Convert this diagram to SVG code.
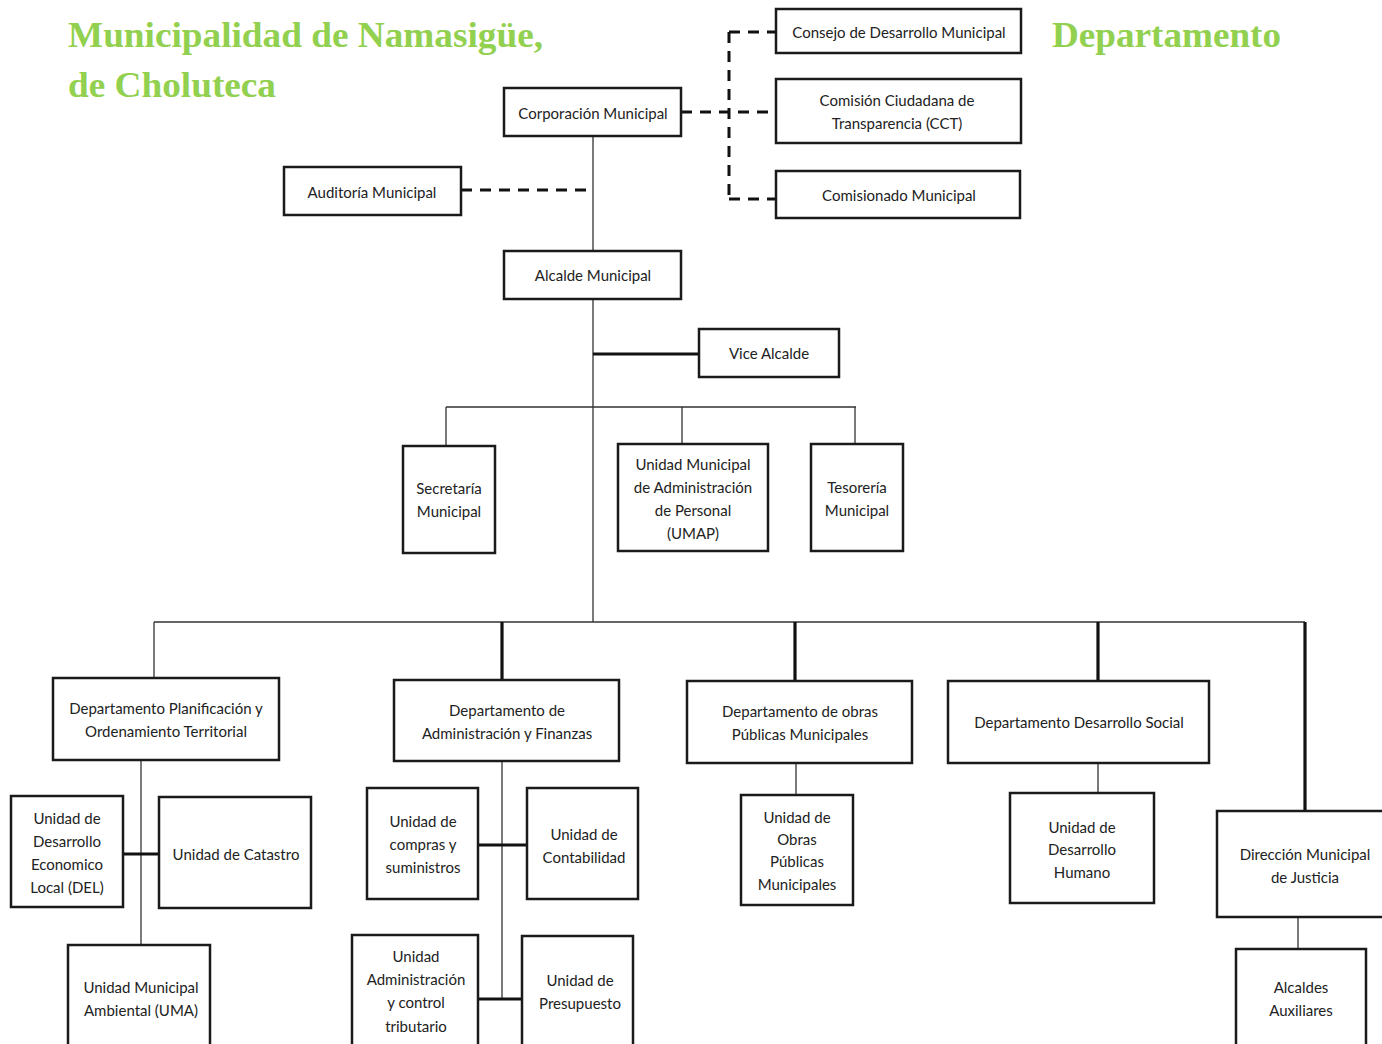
<svg xmlns="http://www.w3.org/2000/svg" width="1382" height="1044" viewBox="0 0 1382 1044">
<style>
.box{fill:#fff;stroke:#1a1a1a;stroke-width:2.5}
.t{font-family:Lato,"Open Sans","Liberation Sans",sans-serif;font-size:15px;fill:#222;text-anchor:middle;dominant-baseline:central}
.thin{stroke:#333;stroke-width:1.3;fill:none}
.thick{stroke:#111;stroke-width:3.2;fill:none}
.dash{stroke:#111;stroke-width:3;fill:none;stroke-dasharray:11,8}
.title{font-family:"Liberation Serif","Times New Roman",serif;font-weight:bold;font-size:36px;fill:#92D050}
</style>
<rect width="1382" height="1044" fill="#fff"/>
<g id="titles">
<text class="title" x="68" y="47" textLength="475" lengthAdjust="spacingAndGlyphs">Municipalidad de Namasigüe,</text>
<text class="title" x="68" y="97" textLength="208" lengthAdjust="spacingAndGlyphs">de Choluteca</text>
<text class="title" x="1052" y="47" textLength="229" lengthAdjust="spacingAndGlyphs">Departamento</text>
</g>
<g id="connectors">
<path class="dash" d="M461 190 H593"/>
<path class="dash" d="M681 112 H776"/>
<path class="dash" d="M729 32 V199"/>
<path class="dash" d="M729 32 H776 M729 199 H776"/>
<path class="thin" d="M593 136 V251 M593 299 V622"/>
<path class="thick" d="M593 354 H699"/>
<path class="thin" d="M446 407 H856 M446 407 V446 M682 407 V444 M855 407 V444"/>
<path class="thin" d="M154 622 H1305 M154 622 V678"/>
<path class="thick" d="M502 622 V680 M795 622 V681 M1098 622 V681 M1305 622 V811"/>
<path class="thin" d="M141 760 V945"/>
<path class="thick" d="M123 854 H159"/>
<path class="thin" d="M502 761 V999"/>
<path class="thick" d="M478 845 H527 M478 999 H522"/>
<path class="thin" d="M796 763 V795 M1098 763 V793 M1298 917 V949"/>
</g>
<g id="n-corporacion"><rect class="box" x="504" y="88" width="177" height="48"/><text class="t" x="593" y="113">Corporación Municipal</text></g>
<g id="n-auditoria"><rect class="box" x="284" y="167" width="177" height="48"/><text class="t" x="372" y="192">Auditoría Municipal</text></g>
<g id="n-alcalde"><rect class="box" x="504" y="251" width="177" height="48"/><text class="t" x="593" y="275">Alcalde Municipal</text></g>
<g id="n-vice"><rect class="box" x="699" y="329" width="140" height="48"/><text class="t" x="769" y="353">Vice Alcalde</text></g>
<g id="n-consejo"><rect class="box" x="776" y="9" width="245" height="44"/><text class="t" x="899" y="32">Consejo de Desarrollo Municipal</text></g>
<g id="n-cct"><rect class="box" x="776" y="79" width="245" height="64"/><text class="t" x="897" y="100">Comisión Ciudadana de</text><text class="t" x="897" y="123">Transparencia (CCT)</text></g>
<g id="n-comisionado"><rect class="box" x="776" y="171" width="244" height="47"/><text class="t" x="899" y="195">Comisionado Municipal</text></g>
<g id="n-secretaria"><rect class="box" x="403" y="446" width="92" height="107"/><text class="t" x="449" y="488">Secretaría</text><text class="t" x="449" y="511">Municipal</text></g>
<g id="n-umap"><rect class="box" x="618" y="444" width="150" height="107"/><text class="t" x="693" y="464">Unidad Municipal</text><text class="t" x="693" y="487">de Administración</text><text class="t" x="693" y="510">de Personal</text><text class="t" x="693" y="533">(UMAP)</text></g>
<g id="n-tesoreria"><rect class="box" x="811" y="444" width="92" height="107"/><text class="t" x="857" y="487">Tesorería</text><text class="t" x="857" y="510">Municipal</text></g>
<g id="n-planificacion"><rect class="box" x="53" y="678" width="226" height="82"/><text class="t" x="166" y="708">Departamento Planificación y</text><text class="t" x="166" y="731">Ordenamiento Territorial</text></g>
<g id="n-finanzas"><rect class="box" x="394" y="680" width="225" height="81"/><text class="t" x="507" y="710">Departamento de</text><text class="t" x="507" y="733">Administración y Finanzas</text></g>
<g id="n-obras"><rect class="box" x="687" y="681" width="225" height="82"/><text class="t" x="800" y="711">Departamento de obras</text><text class="t" x="800" y="734">Públicas Municipales</text></g>
<g id="n-social"><rect class="box" x="948" y="681" width="261" height="82"/><text class="t" x="1079" y="722">Departamento Desarrollo Social</text></g>
<g id="n-justicia"><rect class="box" x="1217" y="811" width="170" height="106"/><text class="t" x="1305" y="854">Dirección Municipal</text><text class="t" x="1305" y="877">de Justicia</text></g>
<g id="n-auxiliares"><rect class="box" x="1236" y="949" width="130" height="100"/><text class="t" x="1301" y="987">Alcaldes</text><text class="t" x="1301" y="1010">Auxiliares</text></g>
<g id="n-del"><rect class="box" x="11" y="796" width="112" height="111"/><text class="t" x="67" y="818">Unidad de</text><text class="t" x="67" y="841">Desarrollo</text><text class="t" x="67" y="864">Economico</text><text class="t" x="67" y="887">Local (DEL)</text></g>
<g id="n-catastro"><rect class="box" x="159" y="797" width="152" height="111"/><text class="t" x="236" y="854">Unidad de Catastro</text></g>
<g id="n-uma"><rect class="box" x="68" y="945" width="142" height="104"/><text class="t" x="141" y="987">Unidad Municipal</text><text class="t" x="141" y="1010">Ambiental (UMA)</text></g>
<g id="n-compras"><rect class="box" x="367" y="788" width="111" height="111"/><text class="t" x="423" y="821">Unidad de</text><text class="t" x="423" y="844">compras y</text><text class="t" x="423" y="867">suministros</text></g>
<g id="n-contabilidad"><rect class="box" x="527" y="788" width="111" height="111"/><text class="t" x="584" y="834">Unidad de</text><text class="t" x="584" y="857">Contabilidad</text></g>
<g id="n-tributario"><rect class="box" x="352" y="935" width="126" height="114"/><text class="t" x="416" y="956">Unidad</text><text class="t" x="416" y="979">Administración</text><text class="t" x="416" y="1002">y control</text><text class="t" x="416" y="1026">tributario</text></g>
<g id="n-presupuesto"><rect class="box" x="522" y="936" width="111" height="113"/><text class="t" x="580" y="980">Unidad de</text><text class="t" x="580" y="1003">Presupuesto</text></g>
<g id="n-unidad-obras"><rect class="box" x="741" y="795" width="112" height="110"/><text class="t" x="797" y="817">Unidad de</text><text class="t" x="797" y="839">Obras</text><text class="t" x="797" y="861">Públicas</text><text class="t" x="797" y="884">Municipales</text></g>
<g id="n-humano"><rect class="box" x="1010" y="793" width="144" height="110"/><text class="t" x="1082" y="827">Unidad de</text><text class="t" x="1082" y="849">Desarrollo</text><text class="t" x="1082" y="872">Humano</text></g>
</svg>
